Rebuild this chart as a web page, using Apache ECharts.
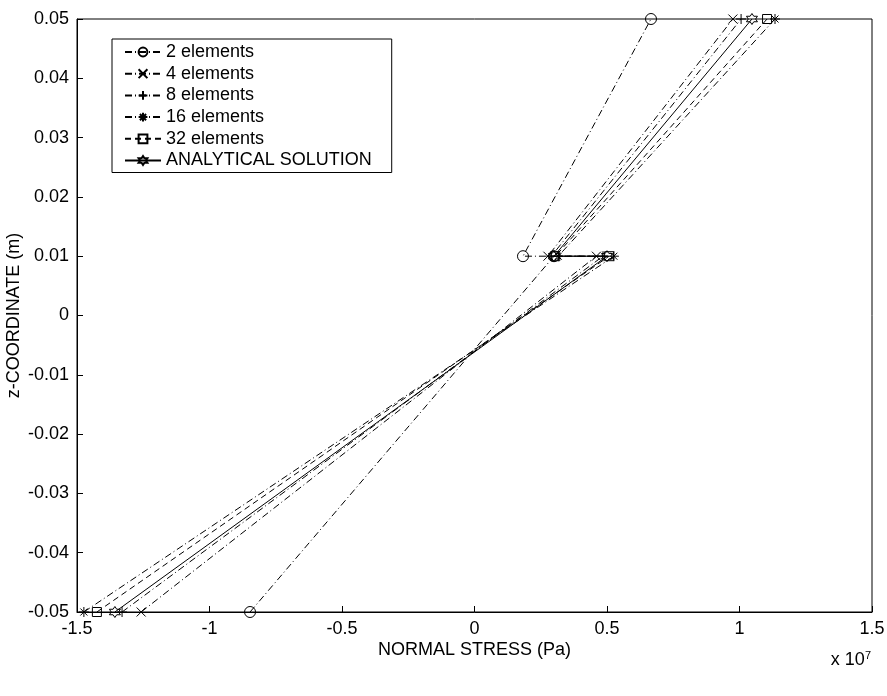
<!DOCTYPE html>
<html>
<head>
<meta charset="utf-8">
<script src="https://cdn.jsdelivr.net/npm/echarts@6/dist/echarts.min.js"></script>
<style>
  html, body { margin: 0; padding: 0; background: #fff; }
  #chart { width: 887px; height: 696px; }
</style>
</head>
<body>
<div id="chart"></div>
<script>
// Through-thickness coordinate: bottom face, layer interface (both sides), top face
const zLevels = [-0.05, 0.01, 0.01, 0.05];

// Normal stress (x 10^7 Pa) at each z level, per mesh
const stress2el  = [-0.847, 0.300, 0.183, 0.666];
const stress4el  = [-1.258, 0.460, 0.277, 0.975];
const stress8el  = [-1.330, 0.485, 0.290, 1.006];
const stress16el = [-1.474, 0.526, 0.316, 1.134];
const stress32el = [-1.425, 0.508, 0.305, 1.104];
const stressAnalytical = [-1.357, 0.500, 0.300, 1.047];

const seriesNames = ['2 elements', '4 elements', '8 elements', '16 elements', '32 elements', 'ANALYTICAL SOLUTION'];

const xTickLabels = ['-1.5', '-1', '-0.5', '0', '0.5', '1', '1.5'];
const yTickLabels = ['-0.05', '-0.04', '-0.03', '-0.02', '-0.01', '0', '0.01', '0.02', '0.03', '0.04', '0.05'];

const FONT = 'Arial, "Liberation Sans", Helvetica, sans-serif';
const FS = 18;

// Marker shapes as stroked outlines
const MARK = {
  circle: 'circle',
  cross: 'path://M0,0L20,20M20,0L0,20',
  plus: 'path://M10,0L10,20M0,10L20,10',
  star: 'path://M10,0L10,20M0,10L20,10M3,3L17,17M17,3L3,17',
  square: 'path://M0,0L20,0L20,20L0,20Z',
  hexagram: 'path://M10,0L12.885,5L18.66,5L15.77,10L18.66,15L12.885,15L10,20L7.115,15L1.34,15L4.23,10L1.34,5L7.115,5Z'
};

const DASHDOT = [7, 3, 1, 3];
const DASHED = [6, 4];

function pairs(xs) {
  return xs.map((v, i) => [v, zLevels[i]]);
}

function makeSeries(name, values, symbol, size, dash) {
  return {
    name: name,
    type: 'line',
    data: pairs(values),
    symbol: symbol,
    symbolSize: size,
    showSymbol: true,
    clip: false,
    lineStyle: { color: '#000', width: 1, type: dash },
    itemStyle: { color: 'none', borderColor: '#000', borderWidth: 1 },
    emphasis: { disabled: true },
    animation: false
  };
}

const chart = echarts.init(document.getElementById('chart'), null, { renderer: 'canvas' });

chart.setOption({
  backgroundColor: '#fff',
  animation: false,
  textStyle: { fontFamily: FONT, color: '#000' },
  grid: {
    left: 77, right: 15, top: 19, bottom: 84,
    outerBoundsMode: 'none', containLabel: false,
    show: true, borderColor: '#000', borderWidth: 1, backgroundColor: 'transparent'
  },
  legend: {
    left: 112, top: 39,
    orient: 'vertical',
    data: seriesNames,
    backgroundColor: '#fff',
    borderColor: '#000', borderWidth: 1,
    padding: [4, 20, 3, 12],
    itemGap: 3.7,
    itemWidth: 36, itemHeight: 11,
    textStyle: { fontFamily: FONT, fontSize: FS, lineHeight: 18, color: '#000' },
    selectedMode: false
  },
  xAxis: {
    type: 'value',
    min: -1.5, max: 1.5, interval: 0.5,
    name: 'NORMAL STRESS (Pa)',
    nameLocation: 'middle',
    nameGap: 29,
    nameMoveOverlap: false,
    nameTextStyle: { fontFamily: FONT, fontSize: FS, color: '#000' },
    axisLine: { show: true, onZero: false, lineStyle: { color: '#000', width: 1 } },
    axisTick: { show: true, inside: true, length: 6, lineStyle: { color: '#000' } },
    splitLine: { show: false },
    axisLabel: {
      fontFamily: FONT, fontSize: FS, color: '#000', margin: 8,
      formatter: (v) => xTickLabels[Math.round((v + 1.5) / 0.5)]
    }
  },
  yAxis: {
    type: 'value',
    min: -0.05, max: 0.05, interval: 0.01,
    name: 'z-COORDINATE (m)',
    nameLocation: 'middle',
    nameGap: 54,
    nameMoveOverlap: false,
    nameRotate: 90,
    nameTextStyle: { fontFamily: FONT, fontSize: FS, color: '#000' },
    axisLine: { show: true, onZero: false, lineStyle: { color: '#000', width: 1 } },
    axisTick: { show: true, inside: true, length: 6, lineStyle: { color: '#000' } },
    splitLine: { show: false },
    axisLabel: {
      fontFamily: FONT, fontSize: FS, color: '#000', margin: 8,
      formatter: (v) => yTickLabels[Math.round((v + 0.05) / 0.01)]
    }
  },
  graphic: [
    {
      type: 'text', right: 16, top: 650,
      style: {
        rich: {
          b: { fontFamily: FONT, fontSize: FS, fill: '#000' },
          s: { fontFamily: FONT, fontSize: 11, fill: '#000', verticalAlign: 'top', padding: [0, 0, 10, 0] }
        },
        text: '{b|x 10}{s|7}'
      }
    }
  ],
  series: [
    makeSeries(seriesNames[0], stress2el, MARK.circle, 11, DASHDOT),
    makeSeries(seriesNames[1], stress4el, MARK.cross, 9, DASHDOT),
    makeSeries(seriesNames[2], stress8el, MARK.plus, 10, DASHDOT),
    makeSeries(seriesNames[3], stress16el, MARK.star, 10, DASHDOT),
    makeSeries(seriesNames[4], stress32el, MARK.square, 9, DASHED),
    makeSeries(seriesNames[5], stressAnalytical, MARK.hexagram, 11, 'solid')
  ]
});
</script>
</body>
</html>
